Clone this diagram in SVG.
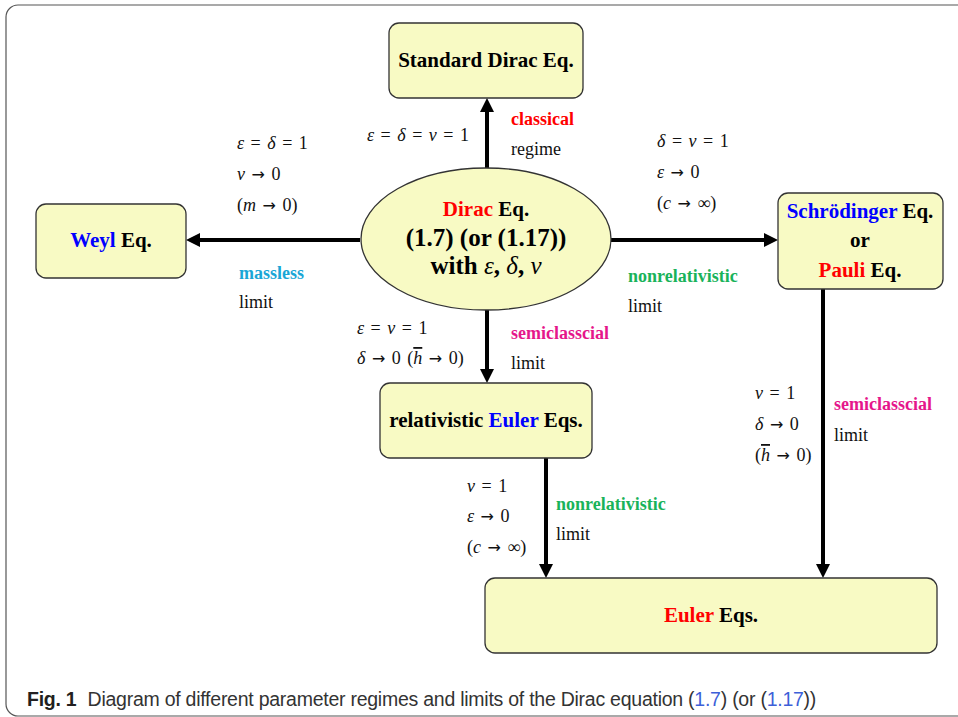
<svg xmlns="http://www.w3.org/2000/svg" width="958" height="717" viewBox="0 0 958 717">
<defs>
<marker id="ah" viewBox="0 0 14 14" markerWidth="14" markerHeight="14" refX="6" refY="7" orient="auto" markerUnits="userSpaceOnUse">
<path d="M0,0 L14,7 L0,14 z" fill="#000"/>
</marker>
</defs>
<style>
.node{fill:#f8fac4;stroke:#333;stroke-width:1.3}
.nt{font-family:"Liberation Serif","Times New Roman",serif;font-weight:bold;font-size:21px;fill:#000;text-anchor:middle}
.big{font-size:25px}
.lb{font-family:"Liberation Serif","Times New Roman",serif;font-size:18px;fill:#111}
.b{font-weight:bold}
.m{font-family:"Liberation Serif","Times New Roman",serif;font-size:18px;fill:#111;word-spacing:2px}
.i{font-style:italic}
.ar{font-family:"DejaVu Sans",sans-serif;font-size:16px}
.red{fill:#ff0000}
.blue{fill:#0000ff}
.cyan{fill:#1aa6d6}
.green{fill:#19b35a}
.mag{fill:#e5168b}
.conn{stroke:#000;stroke-width:4;fill:none;marker-end:url(#ah)}
.cap{font-family:"Liberation Sans",Arial,sans-serif;font-size:19.5px;fill:#333;letter-spacing:-0.25px}
.ref{fill:#3d5fd8}
</style>
<rect x="6" y="5" width="970" height="711" rx="12" fill="#fff" stroke="#555" stroke-width="1.2"/>

<g id="connectors">
<path class="conn" d="M487,168 L487,106"/>
<path class="conn" d="M360,240 L194,240"/>
<path class="conn" d="M611,240 L770,240"/>
<path class="conn" d="M487,310 L487,375"/>
<path class="conn" d="M546,458 L546,570"/>
<path class="conn" d="M823,289 L823,570"/>
</g>

<g id="standard-dirac">
<rect class="node" x="389" y="23" width="194" height="75" rx="10"/>
<text class="nt" x="486" y="67">Standard Dirac Eq.</text>
</g>

<g id="dirac">
<ellipse class="node" cx="486" cy="239" rx="125" ry="71"/>
<text class="nt" x="486" y="216"><tspan class="red">Dirac</tspan> Eq.</text>
<text class="nt big" x="486" y="246">(1.7) (or (1.17))</text>
<text class="nt big" x="486" y="274">with <tspan class="i" font-weight="normal">ε</tspan>, <tspan class="i" font-weight="normal">δ</tspan>, <tspan class="i" font-weight="normal">ν</tspan></text>
</g>

<g id="weyl">
<rect class="node" x="36" y="204" width="150" height="74" rx="10"/>
<text class="nt" x="111" y="247"><tspan class="blue">Weyl</tspan> Eq.</text>
</g>

<g id="schrodinger">
<rect class="node" x="778" y="193" width="165" height="96" rx="10"/>
<text class="nt" x="860" y="218"><tspan class="blue">Schrödinger</tspan> Eq.</text>
<text class="nt" x="860" y="247">or</text>
<text class="nt" x="860" y="277"><tspan class="red">Pauli</tspan> Eq.</text>
</g>

<g id="rel-euler">
<rect class="node" x="380" y="383" width="212" height="75" rx="10"/>
<text class="nt" x="486" y="427">relativistic <tspan class="blue">Euler</tspan> Eqs.</text>
</g>

<g id="euler">
<rect class="node" x="485" y="578" width="452" height="75" rx="10"/>
<text class="nt" x="711" y="622"><tspan class="red">Euler</tspan> Eqs.</text>
</g>

<g id="labels">
<text class="m" x="367" y="141"><tspan class="i">ε</tspan> = <tspan class="i">δ</tspan> = <tspan class="i">ν</tspan> = 1</text>
<text class="lb b red" x="511" y="125">classical</text>
<text class="lb" x="511" y="155">regime</text>

<text class="m" x="237" y="149"><tspan class="i">ε</tspan> = <tspan class="i">δ</tspan> = 1</text>
<text class="m" x="237" y="180"><tspan class="i">ν</tspan> <tspan class="ar">→</tspan> 0</text>
<text class="m" x="237" y="211">(<tspan class="i">m</tspan> <tspan class="ar">→</tspan> 0)</text>
<text class="lb b cyan" x="239" y="279">massless</text>
<text class="lb" x="239" y="308">limit</text>

<text class="m" x="657" y="147"><tspan class="i">δ</tspan> = <tspan class="i">ν</tspan> = 1</text>
<text class="m" x="657" y="178"><tspan class="i">ε</tspan> <tspan class="ar">→</tspan> 0</text>
<text class="m" x="657" y="209">(<tspan class="i">c</tspan> <tspan class="ar">→</tspan> ∞)</text>
<text class="lb b green" x="628" y="282">nonrelativistic</text>
<text class="lb" x="628" y="312">limit</text>

<text class="m" x="357" y="334"><tspan class="i">ε</tspan> = <tspan class="i">ν</tspan> = 1</text>
<text class="m" x="357" y="364"><tspan class="i">δ</tspan> <tspan class="ar">→</tspan> 0 (<tspan class="i" text-decoration="overline">h</tspan> <tspan class="ar">→</tspan> 0)</text>
<text class="lb b mag" x="511" y="339">semiclasscial</text>
<text class="lb" x="511" y="369">limit</text>

<text class="m" x="755" y="399"><tspan class="i">ν</tspan> = 1</text>
<text class="m" x="755" y="430"><tspan class="i">δ</tspan> <tspan class="ar">→</tspan> 0</text>
<text class="m" x="755" y="461">(<tspan class="i" text-decoration="overline">h</tspan> <tspan class="ar">→</tspan> 0)</text>
<text class="lb b mag" x="834" y="410">semiclasscial</text>
<text class="lb" x="834" y="441">limit</text>

<text class="m" x="467" y="492"><tspan class="i">ν</tspan> = 1</text>
<text class="m" x="467" y="522"><tspan class="i">ε</tspan> <tspan class="ar">→</tspan> 0</text>
<text class="m" x="467" y="553">(<tspan class="i">c</tspan> <tspan class="ar">→</tspan> ∞)</text>
<text class="lb b green" x="556" y="510">nonrelativistic</text>
<text class="lb" x="556" y="540">limit</text>
</g>

<g id="caption">
<text class="cap" x="27" y="706"><tspan font-weight="bold" fill="#231f20">Fig. 1</tspan><tspan dx="6"> Diagram of different parameter regimes and limits of the Dirac equation (</tspan><tspan class="ref">1.7</tspan>) (or (<tspan class="ref">1.17</tspan>))</text>
</g>
</svg>
